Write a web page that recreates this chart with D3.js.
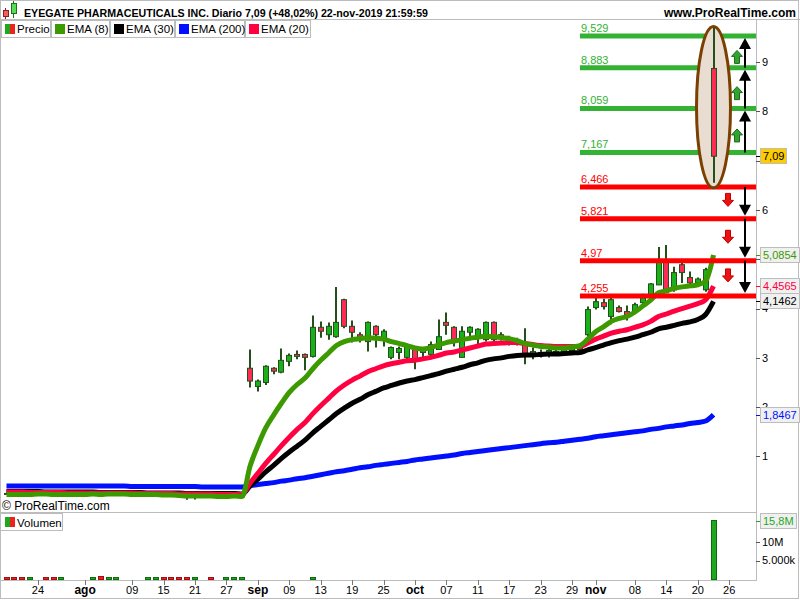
<!DOCTYPE html>
<html>
<head>
<meta charset="utf-8">
<script src="https://cdn.jsdelivr.net/npm/d3@7"></script>
<style>
  body { margin: 0; background: #fff; }
  svg { display: block; font-family: "Liberation Sans", Arial, sans-serif; }
</style>
</head>
<body>
<svg id="chart" width="800" height="600"></svg>
<script>
// ---- data ----
var title = "EYEGATE PHARMACEUTICALS INC. Diario 7,09 (+48,02%) 22-nov-2019 21:59:59";
var site = "www.ProRealTime.com";
var monthAbbr = ["ene", "feb", "mar", "abr", "may", "jun", "jul", "ago", "sep", "oct", "nov", "dic"];
var firstDay = "2019-07-18", lastAxisDay = "2019-12-03";
var holidays = ["2019-09-02", "2019-11-28"];
var tickDates = ["2019-07-24", "2019-08-01", "2019-08-09", "2019-08-15", "2019-08-21", "2019-08-27",
    "2019-09-03", "2019-09-09", "2019-09-13", "2019-09-19", "2019-09-25", "2019-10-01", "2019-10-07",
    "2019-10-11", "2019-10-17", "2019-10-23", "2019-10-29", "2019-11-01", "2019-11-08", "2019-11-14",
    "2019-11-20", "2019-11-26"];

var open = [.25,.24,.25,.23,.25,.25,.24,.23,.24,.24,.23,.24,.25,.23,.25,.25,.24,.23,.22,.23,.23,.21,.22,.20,.18,.20,.19,.20,.19,.20,.20,
    2.79,2.42,2.50,2.79,2.71,2.93,3.07,3.07,3.03,3.62,3.47,3.43,4.18,3.64,3.47,3.33,3.64,3.37,3.01,3.11,3.01,3.17,3.11,3.07,3.17,
    3.72,3.62,3.01,3.52,3.45,3.37,3.72,3.47,3.33,3.35,3.27,3.05,3.11,3.07,3.13,3.10,3.15,3.17,3.47,4.02,4.12,3.84,4.02,3.94,3.94,
    4.12,4.28,4.48,4.99,4.38,4.89,4.63,4.52,4.38,8.87];
var high = [.27,.26,.26,.26,.27,.26,.25,.25,.25,.25,.25,.26,.27,.26,.26,.26,.25,.24,.24,.24,.24,.23,.23,.22,.21,.21,.21,.21,.21,.21,.21,
    3.17,2.56,2.85,2.81,3.19,3.09,3.15,3.09,3.86,3.74,3.72,4.44,4.20,3.76,3.52,3.74,3.66,3.58,3.23,3.23,3.23,3.21,3.21,3.33,3.78,
    3.92,3.64,3.64,3.64,3.60,3.74,3.74,3.52,3.45,3.41,3.60,3.21,3.17,3.19,3.19,3.21,3.23,3.29,4.04,4.22,4.20,4.22,4.06,4.06,4.12,
    4.30,4.52,5.25,5.29,4.85,4.93,4.75,4.63,4.83,9.70];
var low = [.23,.23,.23,.22,.24,.23,.22,.22,.23,.22,.22,.23,.22,.22,.23,.23,.22,.21,.21,.21,.20,.20,.19,.12,.13,.18,.18,.18,.18,.19,.18,
    2.40,2.32,2.45,2.67,2.69,2.83,2.97,2.75,3.01,3.41,3.37,3.41,3.60,3.31,3.31,3.13,3.21,3.23,2.97,2.97,2.97,2.77,3.01,2.97,3.17,
    3.47,3.23,3.01,3.41,3.27,3.33,3.31,3.35,3.25,3.25,2.87,2.97,3.01,3.01,3.05,3.05,3.09,3.13,3.43,3.98,3.98,3.68,3.92,3.76,3.90,
    4.06,4.26,4.48,4.32,4.34,4.52,4.48,4.44,4.34,6.55];
var close = [.24,.25,.23,.25,.25,.24,.23,.24,.24,.23,.24,.25,.23,.25,.25,.24,.23,.22,.23,.23,.21,.22,.20,.18,.20,.19,.20,.19,.20,.20,.19,
    2.53,2.53,2.83,2.73,2.95,3.05,3.03,3.01,3.62,3.54,3.64,3.72,3.64,3.52,3.41,3.72,3.47,3.54,3.21,3.19,3.21,2.97,3.17,3.27,3.43,
    3.66,3.37,3.54,3.62,3.58,3.72,3.37,3.39,3.41,3.31,3.07,3.13,3.09,3.15,3.11,3.17,3.20,3.25,3.98,4.14,4.04,4.18,3.94,3.84,4.08,
    4.22,4.50,4.99,4.32,4.73,4.73,4.52,4.60,4.79,7.09];

var ema8 = [.23,.23,.23,.23,.24,.24,.23,.23,.23,.23,.23,.24,.23,.24,.24,.24,.23,.23,.23,.23,.22,.22,.21,.20,.20,.20,.20,.19,.19,.20,.19,
    .80,1.22,1.58,1.84,2.08,2.30,2.46,2.59,2.78,2.95,3.10,3.25,3.33,3.37,3.39,3.41,3.40,3.38,3.33,3.29,3.25,3.20,3.18,3.21,3.26,
    3.31,3.34,3.37,3.40,3.42,3.44,3.43,3.41,3.39,3.35,3.29,3.26,3.23,3.22,3.20,3.20,3.22,3.25,3.38,3.53,3.63,3.74,3.80,3.84,3.93,
    4.05,4.17,4.32,4.36,4.41,4.44,4.46,4.48,4.56,5.0854];
var ema30 = [.29,.29,.29,.29,.29,.28,.28,.28,.28,.28,.28,.28,.27,.27,.27,.27,.27,.27,.26,.26,.26,.26,.26,.25,.25,.25,.25,.25,.25,.25,.24,
    .40,.54,.69,.82,.96,1.09,1.21,1.33,1.48,1.61,1.74,1.87,1.98,2.08,2.16,2.25,2.32,2.39,2.44,2.49,2.53,2.56,2.60,2.64,2.68,
    2.73,2.77,2.81,2.86,2.90,2.95,2.98,3.00,3.03,3.05,3.06,3.06,3.07,3.08,3.08,3.09,3.10,3.11,3.16,3.21,3.26,3.31,3.35,3.38,3.42,
    3.47,3.52,3.59,3.62,3.66,3.70,3.73,3.78,3.88,4.1462];
var ema200 = [.40,.40,.40,.40,.40,.40,.40,.40,.40,.40,.40,.40,.40,.40,.40,.40,.39,.39,.39,.39,.39,.39,.39,.39,.39,.38,.38,.38,.38,.38,.38,
    .41,.43,.45,.47,.50,.52,.55,.57,.60,.63,.66,.69,.71,.74,.77,.79,.82,.84,.86,.88,.90,.93,.95,.97,.99,
    1.01,1.03,1.06,1.08,1.10,1.12,1.14,1.16,1.18,1.20,1.22,1.24,1.26,1.28,1.29,1.31,1.33,1.35,1.37,1.40,1.42,1.44,1.46,1.48,1.50,
    1.52,1.55,1.57,1.60,1.62,1.64,1.67,1.69,1.72,1.8467];
var ema20 = [.28,.28,.28,.27,.27,.27,.27,.27,.26,.26,.26,.26,.26,.26,.26,.26,.26,.25,.25,.25,.25,.25,.24,.24,.24,.24,.24,.23,.23,.23,.23,
    .46,.66,.86,1.04,1.22,1.39,1.55,1.69,1.87,2.03,2.18,2.33,2.45,2.55,2.63,2.72,2.78,2.84,2.88,2.91,2.94,2.95,2.98,3.01,3.05,
    3.10,3.12,3.16,3.20,3.24,3.28,3.29,3.30,3.31,3.31,3.29,3.27,3.25,3.24,3.23,3.23,3.23,3.23,3.30,3.38,3.44,3.50,3.54,3.57,3.62,
    3.67,3.74,3.84,3.89,3.95,4.00,4.05,4.10,4.18,4.4565];

// volume in millions of shares (groups of ten bars), 1 = green bar, 0 = red bar
var volume = [
    .3,.3,.3,.3,.1,.3,.3,.3,.1,.1,
    .1,.3,.6,.5,.3,.1,.1,.1,.3,.3,
    .3,.3,.3,.5,.3,.1,.3,.1,.3,.3,
    .3,.1,.1,.1,.1,.1,.1,.1,.1,.3,
    .1,.1,.1,.1,.1,.1,.1,.1,.1,.1,
    .1,.1,.1,.1,.1,.1,.1,.1,.1,.1,
    .1,.1,.1,.1,.1,.1,.1,.1,.1,.1,
    .1,.1,.1,.1,.1,.1,.1,.1,.1,.1,
    .1,.1,.1,.1,.1,.1,.1,.1,.1,.1,
    15.8];
var volUp = [
    0,0,0,1,1,0,0,1,1,0,
    1,1,0,1,1,0,0,1,1,1,
    0,0,0,0,1,0,0,1,1,1,
    1,0,1,1,0,1,1,0,0,1,
    0,1,1,0,0,0,1,0,1,1,
    1,1,0,1,1,1,0,0,1,1,
    1,1,0,0,1,0,0,1,0,1,
    0,1,1,1,1,1,0,1,0,0,
    1,1,1,1,0,1,0,0,1,1,
    1];

var levels = [9.529, 8.883, 8.059, 7.167, 6.466, 5.821, 4.97, 4.255];
var lastClose = 7.09;
var levelStartDate = "2019-10-30";
var priceTicks = [1, 2, 3, 4, 5, 6, 7, 8, 9];
var volTicks = [5, 10];

var emaSeries = [
    { name: "EMA (8)", values: ema8, color: "#3c9a00" },
    { name: "EMA (30)", values: ema30, color: "#000000" },
    { name: "EMA (200)", values: ema200, color: "#0010ff" },
    { name: "EMA (20)", values: ema20, color: "#ff0040" }
];
// draw order on the chart (red lies on top of black before september)
var drawOrder = [2, 1, 3, 0];
var legendWidths = [49, 58, 64, 69, 65];

// ---- helpers ----
function tradingDays(from, to, skip) {
    var out = [];
    var end = new Date(to + "T12:00:00Z");
    for (var d = new Date(from + "T12:00:00Z"); d <= end; d.setUTCDate(d.getUTCDate() + 1)) {
        var wd = d.getUTCDay(), s = d.toISOString().slice(0, 10);
        if (wd !== 0 && wd !== 6 && skip.indexOf(s) < 0) out.push(s);
    }
    return out;
}
function comma(v) { return String(v).replace(".", ","); }

var days = tradingDays(firstDay, lastAxisDay, holidays);
var nBars = close.length;
var last = nBars - 1;

var W = 800, H = 600;
var plotRight = 756, priceTop = 20, priceBottom = 512, volTop = 513, volBottom = 579, axisY = 580;

var x = d3.scaleLinear().domain([0, last]).range([6.5, 713.5]);
var y = d3.scaleLinear().domain([-0.126, 9.853]).range([priceBottom, priceTop]);
var vy = d3.scaleLinear().domain([0, 17.84]).range([volBottom, volTop]);

var svg = d3.select("#chart");
var frame = "#bcbcbc";

svg.append("rect").attr("width", W).attr("height", H).attr("fill", "#fff");

svg.append("defs").append("clipPath").attr("id", "pclip").append("rect")
    .attr("x", 0).attr("y", priceTop).attr("width", plotRight).attr("height", priceBottom - priceTop);

// ---- price pane ----
var pane = svg.append("g").attr("clip-path", "url(#pclip)");

function drawCandles(sel) {
    sel.append("line")
        .attr("x1", d => Math.round(x(d))).attr("x2", d => Math.round(x(d)))
        .attr("y1", d => y(high[d])).attr("y2", d => y(low[d]))
        .attr("stroke", "#25501c").attr("stroke-width", 2);
    sel.append("rect")
        .attr("x", d => Math.round(x(d)) - 2.5)
        .attr("width", 5)
        .attr("y", d => y(Math.max(open[d], close[d])))
        .attr("height", d => Math.max(1, Math.abs(y(open[d]) - y(close[d]))))
        .attr("fill", d => close[d] >= open[d] ? "#19b119" : "#ff2a55")
        .attr("stroke", "#25501c").attr("stroke-width", 1);
}
var barIdx = d3.range(nBars);
pane.append("g").selectAll("g").data(barIdx.slice(0, last)).join("g").call(drawCandles);

var line = d3.line().x((d, i) => x(i)).y(d => y(d)).curve(d3.curveMonotoneX);
pane.append("g").selectAll("path").data(drawOrder.map(i => emaSeries[i])).join("path")
    .attr("d", d => line(d.values))
    .attr("fill", "none").attr("stroke", d => d.color).attr("stroke-width", 5)
    .attr("stroke-linejoin", "round");

// support / resistance levels
var levelX0 = x(days.indexOf(levelStartDate));
var levelG = pane.append("g");
levelG.selectAll("line").data(levels).join("line")
    .attr("x1", levelX0).attr("x2", plotRight)
    .attr("y1", d => y(d)).attr("y2", d => y(d))
    .attr("stroke", d => d > lastClose ? "#33b233" : "#ff0000").attr("stroke-width", 5);
levelG.selectAll("text").data(levels).join("text")
    .attr("x", levelX0 + 1).attr("y", d => y(d) - 4)
    .attr("font-size", 11)
    .attr("fill", d => d > lastClose ? "#33b233" : "#ff0000")
    .text(d => comma(d));

// highlight ellipse around the last bar
var eTop = y(high[last]), eBot = y(low[last]);
pane.append("ellipse")
    .attr("cx", x(last)).attr("cy", (eTop + eBot) / 2 + 2)
    .attr("rx", 17).attr("ry", (eBot - eTop) / 2 + 3)
    .attr("fill", "#e8ddd0").attr("stroke", "#7b3f00").attr("stroke-width", 3);
pane.append("g").selectAll("g").data([last]).join("g").call(drawCandles);

// arrows between levels
var arrowG = pane.append("g");
var blackX = plotRight - 11, greenX = plotRight - 19, redX = plotRight - 28;
var ups = levels.filter(d => d > lastClose), downs = levels.filter(d => d < lastClose);
function blackArrow(x0, yFrom, yTip) {
    var dir = yTip < yFrom ? 1 : -1;
    arrowG.append("line").attr("x1", x0).attr("x2", x0).attr("y1", yFrom).attr("y2", yTip + dir * 4)
        .attr("stroke", "#000").attr("stroke-width", 2);
    arrowG.append("path")
        .attr("d", "M" + x0 + "," + yTip + "L" + (x0 - 6) + "," + (yTip + dir * 11) + "L" + (x0 + 6) + "," + (yTip + dir * 11) + "Z")
        .attr("fill", "#000");
}
function blockArrow(cx, cy, up, fill, edge) {
    var s = up ? 1 : -1;
    var p = [[0, -6.5], [5.5, -0.5], [2.5, -0.5], [2.5, 6.5], [-2.5, 6.5], [-2.5, -0.5], [-5.5, -0.5]]
        .map(q => [cx + q[0], cy + s * q[1]]);
    arrowG.append("path").attr("d", "M" + p.join("L") + "Z")
        .attr("fill", fill).attr("stroke", edge).attr("stroke-width", 1);
}
for (var i = 0; i < ups.length - 1; i++) {
    var yu = y(ups[i]), yl = y(ups[i + 1]);
    blackArrow(blackX, yl, yu + 2);
    blockArrow(greenX, (yu + yl) / 2 + 5, true, "#2fa52f", "#1e6a1e");
}
for (var j = 0; j < downs.length - 1; j++) {
    var ya = y(downs[j]), yb = y(downs[j + 1]);
    blackArrow(blackX, ya, yb - 3);
    blockArrow(redX, (ya + yb) / 2 - 3, false, "#ee1111", "#c40000");
}

// ---- volume pane ----
svg.append("g").selectAll("rect").data(barIdx.filter(i => vy(0) - vy(volume[i]) >= 1)).join("rect")
    .attr("x", i => Math.round(x(i)) - 2.5).attr("width", 5)
    .attr("y", i => vy(volume[i])).attr("height", i => vy(0) - vy(volume[i]))
    .attr("fill", i => volUp[i] ? "#1ea81e" : "#ee2020")
    .attr("stroke", i => volUp[i] ? "#0c6c0c" : "#a01010").attr("stroke-width", 1)
    .attr("shape-rendering", "crispEdges");

// ---- frame lines ----
var fr = svg.append("g").attr("stroke", frame).attr("shape-rendering", "crispEdges").attr("fill", "none");
fr.append("rect").attr("x", 0.5).attr("y", 0.5).attr("width", 798).attr("height", 598);
fr.append("line").attr("x1", 0).attr("x2", W).attr("y1", 19.5).attr("y2", 19.5);
fr.append("line").attr("x1", 0).attr("x2", plotRight).attr("y1", priceBottom + 0.5).attr("y2", priceBottom + 0.5);
fr.append("line").attr("x1", 0).attr("x2", plotRight).attr("y1", axisY + 0.5).attr("y2", axisY + 0.5);
fr.append("line").attr("x1", plotRight + 0.5).attr("x2", plotRight + 0.5).attr("y1", 19.5).attr("y2", axisY + 0.5);

// ---- price axis (right) ----
var boxValues = [lastClose, ema8[last], ema20[last], ema30[last], ema200[last]];
// a tick label fully hidden by a value box is not drawn
var shownTicks = priceTicks.filter(t => !boxValues.some(v => Math.abs(y(v) - y(t)) < 5));
var ax = svg.append("g").attr("font-size", 11);
ax.selectAll("line").data(priceTicks).join("line")
    .attr("x1", plotRight).attr("x2", plotRight + 4)
    .attr("y1", d => Math.round(y(d)) + 0.5).attr("y2", d => Math.round(y(d)) + 0.5)
    .attr("stroke", "#555");
ax.selectAll("text").data(shownTicks).join("text")
    .attr("x", plotRight + 6).attr("y", d => y(d)).attr("dy", "0.35em")
    .attr("fill", "#000").text(d => d);

function valueBox(g, yy, label, color, bg) {
    var gg = g.append("g");
    gg.append("line").attr("x1", plotRight).attr("x2", plotRight + 4)
        .attr("y1", Math.round(yy) + 0.5).attr("y2", Math.round(yy) + 0.5).attr("stroke", color);
    var t = gg.append("text").attr("x", plotRight + 7).attr("y", yy).attr("dy", "0.36em")
        .attr("font-size", 11).attr("fill", color).text(label);
    var w = t.node().getComputedTextLength();
    gg.insert("rect", "text").attr("x", plotRight + 4.5).attr("y", Math.round(yy) - 7.5)
        .attr("width", w + 5).attr("height", 15)
        .attr("fill", bg).attr("stroke", "#bdbdbd").attr("shape-rendering", "crispEdges");
}
var boxes = svg.append("g");
valueBox(boxes, y(lastClose), comma(lastClose), "#000", "#ffcc00");
valueBox(boxes, y(ema8[last]), comma(ema8[last]), "#3c9a00", "#f0f0f0");
valueBox(boxes, y(ema20[last]), comma(ema20[last]), "#ff0040", "#f0f0f0");
valueBox(boxes, y(ema30[last]), comma(ema30[last]), "#000", "#f0f0f0");
valueBox(boxes, y(ema200[last]), comma(ema200[last]), "#0010ff", "#f0f0f0");

// ---- volume axis ----
var vax = svg.append("g").attr("font-size", 11);
vax.selectAll("line").data(volTicks).join("line")
    .attr("x1", plotRight).attr("x2", plotRight + 4)
    .attr("y1", d => Math.round(vy(d)) + 0.5).attr("y2", d => Math.round(vy(d)) + 0.5).attr("stroke", "#555");
vax.selectAll("text").data(volTicks).join("text")
    .attr("x", plotRight + 6).attr("y", d => vy(d)).attr("dy", "0.35em")
    .text(d => d >= 10 ? d + "M" : d + ".000k");
valueBox(vax, vy(volume[last]), comma(volume[last]) + "M", "#1ea81e", "#f0f0f0");

// ---- time axis ----
var tg = svg.append("g").attr("text-anchor", "middle");
var tickData = tickDates.map(s => {
    var i = days.indexOf(s);
    return { s: s, i: i, month: days[i - 1].slice(5, 7) !== s.slice(5, 7) };
});
tg.selectAll("line").data(tickData).join("line")
    .attr("x1", d => Math.round(x(d.i)) + 0.5).attr("x2", d => Math.round(x(d.i)) + 0.5)
    .attr("y1", axisY).attr("y2", axisY + 5).attr("stroke", "#777");
tg.selectAll("text").data(tickData).join("text")
    .attr("x", d => x(d.i)).attr("y", 594)
    .attr("font-weight", d => d.month ? "bold" : "normal")
    .attr("font-size", d => d.month ? 12 : 11)
    .text(d => d.month ? monthAbbr[+d.s.slice(5, 7) - 1] : d.s.slice(8, 10));

// ---- header ----
var hd = svg.append("g");
hd.append("line").attr("x1", 5.5).attr("x2", 5.5).attr("y1", 8).attr("y2", 19).attr("stroke", "#8a2020");
hd.append("rect").attr("x", 3.5).attr("y", 10.5).attr("width", 5).attr("height", 6).attr("fill", "#f06060").attr("stroke", "#8a2020");
hd.append("line").attr("x1", 13.5).attr("x2", 13.5).attr("y1", 1).attr("y2", 18).attr("stroke", "#207020");
hd.append("rect").attr("x", 11.5).attr("y", 3.5).attr("width", 5).attr("height", 10).attr("fill", "#55dd55").attr("stroke", "#207020");
hd.append("text").attr("x", 24).attr("y", 17).attr("font-size", 11.5).attr("font-weight", "bold")
    .attr("textLength", 404).attr("lengthAdjust", "spacingAndGlyphs").text(title);
hd.append("text").attr("x", 796).attr("y", 17).attr("font-size", 12).attr("font-weight", "bold")
    .attr("text-anchor", "end").text(site);

// legend
var legendItems = [{ name: "Precio", color: null }].concat(emaSeries);
var lg = svg.append("g").attr("font-size", 11.5);
var lx = 1;
legendItems.forEach(function (d, k) {
    var w = legendWidths[k];
    var g = lg.append("g");
    g.append("rect").attr("x", lx + 0.5).attr("y", 20.5).attr("width", w).attr("height", 17)
        .attr("fill", "#fff").attr("stroke", frame).attr("shape-rendering", "crispEdges");
    if (d.color) {
        g.append("rect").attr("x", lx + 4).attr("y", 24).attr("width", 10).attr("height", 10).attr("fill", d.color);
    } else {
        g.append("rect").attr("x", lx + 4).attr("y", 24).attr("width", 5).attr("height", 10).attr("fill", "#1ea81e");
        g.append("rect").attr("x", lx + 9).attr("y", 24).attr("width", 5).attr("height", 10).attr("fill", "#ee2020");
    }
    g.append("text").attr("x", lx + 16).attr("y", 33).text(d.name);
    lx += w + 1;
});

svg.append("text").attr("x", 2).attr("y", 510).attr("font-size", 12).text("\u00a9 ProRealTime.com");

var vl = svg.append("g").attr("font-size", 11.5);
vl.append("rect").attr("x", 0.5).attr("y", 513.5).attr("width", 62).attr("height", 17)
    .attr("fill", "#fff").attr("stroke", frame).attr("shape-rendering", "crispEdges");
vl.append("rect").attr("x", 5).attr("y", 517).attr("width", 5).attr("height", 10).attr("fill", "#1ea81e");
vl.append("rect").attr("x", 10).attr("y", 517).attr("width", 5).attr("height", 10).attr("fill", "#ee2020");
vl.append("text").attr("x", 17).attr("y", 527).text("Volumen");
</script>
</body>
</html>
